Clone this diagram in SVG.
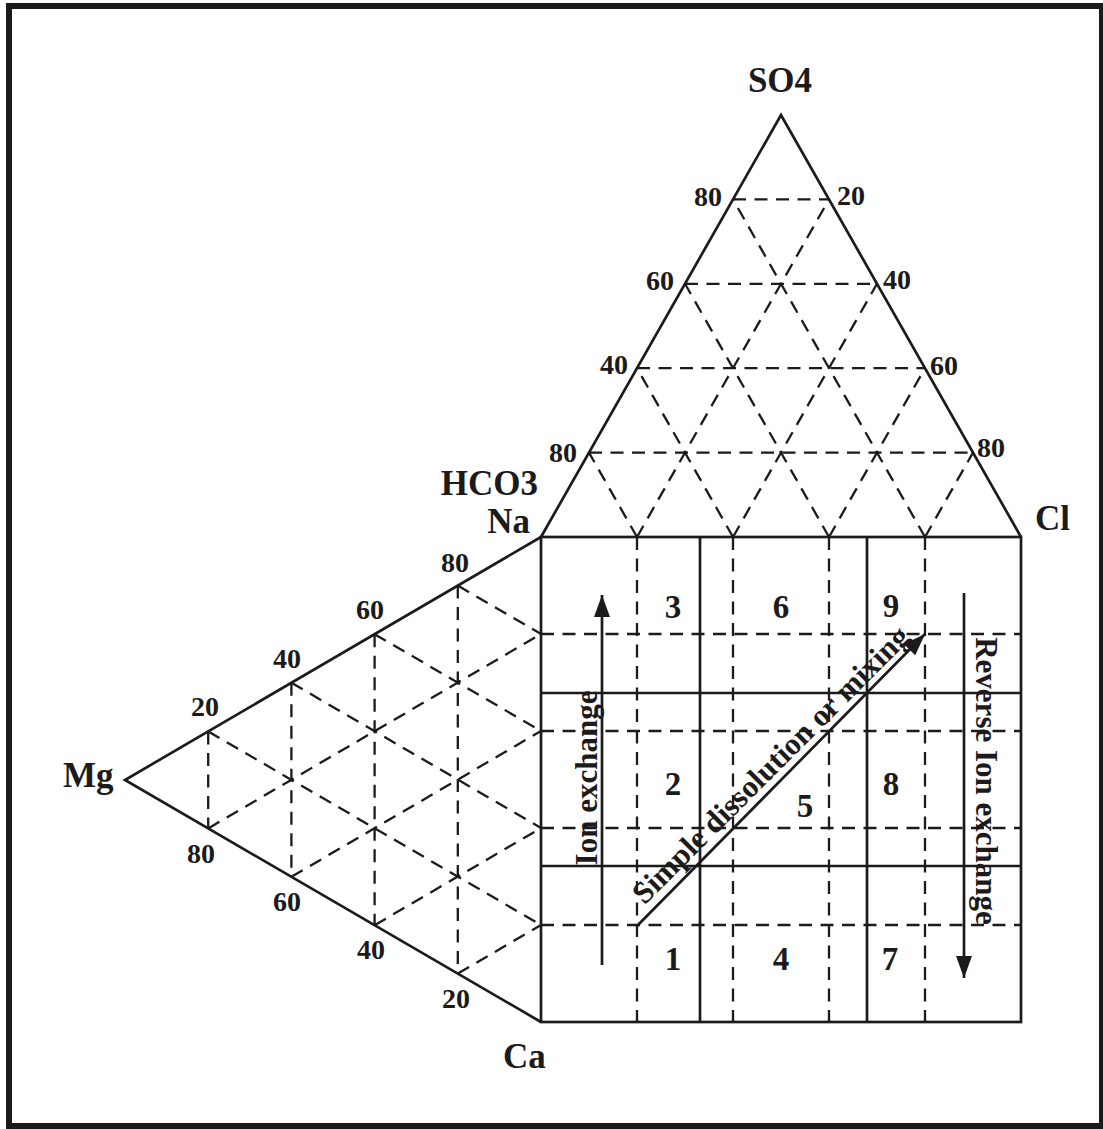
<svg xmlns="http://www.w3.org/2000/svg" width="1103" height="1129" viewBox="0 0 1103 1129">
<style>
.s{stroke:#1c1a1a;stroke-width:2.7;fill:none}
.d{stroke:#1c1a1a;stroke-width:2.3;fill:none;stroke-dasharray:13 8.5}
text{font-family:"Liberation Serif","Times New Roman",serif;font-weight:bold;fill:#1c1a1a}
.lab{font-size:35px}
.tk{font-size:28px}
.num{font-size:33px;text-anchor:middle}
.cap{font-size:31px;text-anchor:middle}
</style>
<defs>
<marker id="ah" markerUnits="userSpaceOnUse" markerWidth="22" markerHeight="16" refX="22" refY="8" orient="auto">
<path d="M0,0 L22,8 L0,16 z" fill="#1c1a1a"/>
</marker>
</defs>
<rect id="frame" x="9" y="6" width="1093" height="1120" fill="#fff" stroke="#1c1a1a" stroke-width="6"/>

<g id="top-triangle">
<path class="s" d="M541,537 L781,115 L1021,537"/>
<path class="d" d="M589,452.6 H973 M637,368.2 H925 M685,283.8 H877 M733,199.4 H829"/>
<path class="d" d="M637,537 L829,199.4 M733,537 L877,283.8 M829,537 L925,368.2 M925,537 L973,452.6"/>
<path class="d" d="M637,537 L589,452.6 M733,537 L637,368.2 M829,537 L685,283.8 M925,537 L733,199.4"/>
</g>

<g id="left-triangle">
<path class="s" d="M541,537 L125,780 L541,1022"/>
<path class="d" d="M208.2,731.4 V828.4 M291.4,682.8 V876.8 M374.6,634.2 V925.2 M457.8,585.6 V973.6"/>
<path class="d" d="M208.2,828.4 L541,634 M291.4,876.8 L541,731 M374.6,925.2 L541,828 M457.8,973.6 L541,925"/>
<path class="d" d="M208.2,731.4 L541,925 M291.4,682.8 L541,828 M374.6,634.2 L541,731 M457.8,585.6 L541,634"/>
</g>

<g id="square">
<rect class="s" x="541" y="537" width="480" height="485"/>
<path class="s" d="M700,537 V1022 M867,537 V1022 M541,693 H1021 M541,866 H1021"/>
<path class="d" d="M637,537 V1022 M733,537 V1022 M829,537 V1022 M925,537 V1022"/>
<path class="d" d="M541,634 H1021 M541,731 H1021 M541,828 H1021 M541,925 H1021"/>
</g>

<g id="connectors">
<line class="s" x1="602" y1="965" x2="602" y2="595" marker-end="url(#ah)"/>
<line class="s" x1="964" y1="593" x2="964" y2="978" marker-end="url(#ah)"/>
<line class="s" x1="637" y1="926" x2="925" y2="634" marker-end="url(#ah)"/>
</g>

<g id="labels">
<text class="lab" x="538" y="495" text-anchor="end">HCO3</text>
<text class="lab" x="780" y="92" text-anchor="middle">SO4</text>
<text class="lab" x="530" y="533" text-anchor="end">Na</text>
<text class="lab" x="1035" y="530">Cl</text>
<text class="lab" x="63" y="787">Mg</text>
<text class="lab" x="503" y="1068">Ca</text>
</g>

<g id="ticks-top">
<text class="tk" x="722" y="206" text-anchor="end">80</text>
<text class="tk" x="674" y="290" text-anchor="end">60</text>
<text class="tk" x="628" y="374" text-anchor="end">40</text>
<text class="tk" x="577" y="462" text-anchor="end">80</text>
<text class="tk" x="837" y="205">20</text>
<text class="tk" x="883" y="289">40</text>
<text class="tk" x="930" y="375">60</text>
<text class="tk" x="977" y="457">80</text>
</g>

<g id="ticks-left">
<text class="tk" x="455" y="572" text-anchor="middle">80</text>
<text class="tk" x="370" y="619" text-anchor="middle">60</text>
<text class="tk" x="287" y="668" text-anchor="middle">40</text>
<text class="tk" x="205" y="716" text-anchor="middle">20</text>
<text class="tk" x="201" y="863" text-anchor="middle">80</text>
<text class="tk" x="287" y="911" text-anchor="middle">60</text>
<text class="tk" x="371" y="959" text-anchor="middle">40</text>
<text class="tk" x="456" y="1008" text-anchor="middle">20</text>
</g>

<g id="fields">
<text class="num" x="673" y="618">3</text>
<text class="num" x="781" y="618">6</text>
<text class="num" x="891" y="617">9</text>
<text class="num" x="673" y="795">2</text>
<text class="num" x="805" y="817">5</text>
<text class="num" x="891" y="795">8</text>
<text class="num" x="673" y="970">1</text>
<text class="num" x="781" y="970">4</text>
<text class="num" x="890" y="970">7</text>
</g>

<g id="captions">
<text class="cap" transform="translate(597,778) rotate(-90)">Ion exchange</text>
<text class="cap" transform="translate(976,781) rotate(90)">Reverse Ion exchange</text>
<text class="cap" transform="translate(778,772) rotate(-45)">Simple dissolution or mixing</text>
</g>
</svg>
